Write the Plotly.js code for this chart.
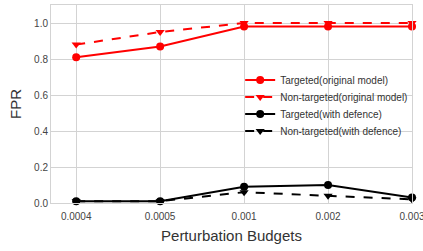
<!DOCTYPE html>
<html>
<head>
<meta charset="utf-8">
<script src="https://cdn.plot.ly/plotly-3.0.1.min.js"></script>
<style>html,body{margin:0;padding:0;background:#fff;}#chart{width:423px;height:251px;}</style>
</head>
<body>
<div id="chart"></div>
<script>
const budgets = ["0.0004", "0.0005", "0.001", "0.002", "0.003"];
const targetedOriginal = [0.81, 0.87, 0.98, 0.98, 0.98];
const nonTargetedOriginal = [0.88, 0.95, 1.0, 1.0, 1.0];
const targetedDefence = [0.01, 0.01, 0.09, 0.10, 0.03];
const nonTargetedDefence = [0.01, 0.01, 0.06, 0.04, 0.02];

const seriesNames = ["Targeted(original model)", "Non-targeted(original model)", "Targeted(with defence)", "Non-targeted(with defence)"];
const legendIds = ["legend", "legend2", "legend3", "legend4"];

const traces = [
  {y: targetedOriginal, color: "#ff0000", dash: "solid", symbol: "circle"},
  {y: nonTargetedOriginal, color: "#ff0000", dash: "dash", symbol: "triangle-down"},
  {y: targetedDefence, color: "#000000", dash: "solid", symbol: "circle"},
  {y: nonTargetedDefence, color: "#000000", dash: "dash", symbol: "triangle-down"}
].map((t, i) => ({
  type: "scatter", mode: "lines+markers", x: budgets, y: t.y, name: seriesNames[i],
  legend: legendIds[i],
  line: {color: t.color, width: 2, dash: t.dash},
  marker: {color: t.color, size: 8, symbol: t.symbol},
  cliponaxis: false
}));

const legendTops = [0.695, 0.609, 0.523, 0.437];
function legendBox(y) {
  return {x: 0.524, y: y, xanchor: "left", yanchor: "top", bgcolor: "rgba(0,0,0,0)",
          font: {size: 10, color: "#333", family: "Liberation Sans, Arial, sans-serif"}, itemwidth: 30};
}

const layout = {
  width: 423, height: 251,
  margin: {l: 51, r: 11, t: 5, b: 48},
  paper_bgcolor: "#fff", plot_bgcolor: "#fff",
  font: {family: "Liberation Sans, Arial, sans-serif", color: "#444"},
  showlegend: true,
  legend: legendBox(legendTops[0]),
  legend2: legendBox(legendTops[1]),
  legend3: legendBox(legendTops[2]),
  legend4: legendBox(legendTops[3]),
  xaxis: {
    type: "category", range: [-0.3, 4],
    showgrid: true, gridcolor: "#d3d3d3", gridwidth: 1,
    showline: true, linecolor: "#d3d3d3", linewidth: 1, mirror: true,
    zeroline: false, ticks: "", ticklabelstandoff: 4, tickfont: {size: 10, color: "#444"},
    title: {text: "Perturbation Budgets", font: {size: 15, color: "#333"}, standoff: 9}
  },
  yaxis: {
    range: [0, 1.1], tickvals: [0, 0.2, 0.4, 0.6, 0.8, 1.0],
    ticktext: ["0.0", "0.2", "0.4", "0.6", "0.8", "1.0"],
    showgrid: true, gridcolor: "#d3d3d3", gridwidth: 1,
    showline: true, linecolor: "#d3d3d3", linewidth: 1, mirror: true,
    zeroline: false, ticks: "", tickfont: {size: 10, color: "#444"},
    title: {text: "FPR", font: {size: 15, color: "#333"}, standoff: 8}
  }
};

Plotly.newPlot("chart", traces, layout, {displayModeBar: false, staticPlot: true});
</script>
</body>
</html>
